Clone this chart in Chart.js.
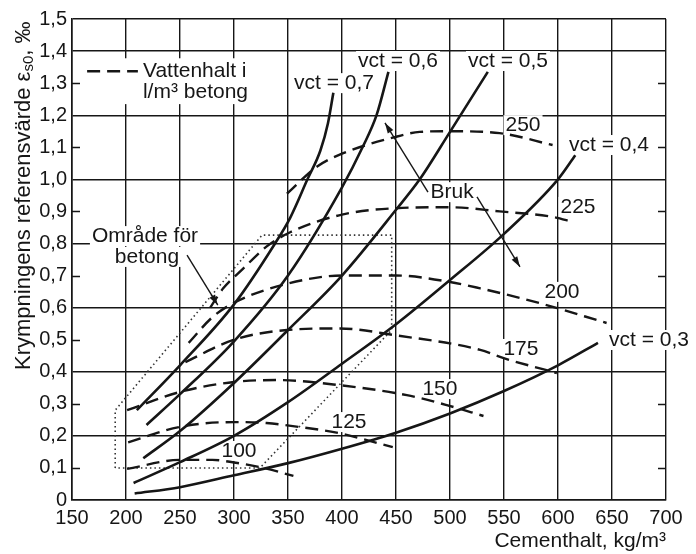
<!DOCTYPE html>
<html>
<head>
<meta charset="utf-8">
<script src="https://cdn.jsdelivr.net/npm/chart.js@4.4.0/dist/chart.umd.min.js"></script>
<style>
  html, body { margin: 0; padding: 0; background: #fff; }
</style>
</head>
<body>
<canvas id="chart" width="696" height="554"></canvas>
<script>
// axis labels
const xTickLabels = ['150', '200', '250', '300', '350', '400', '450', '500', '550', '600', '650', '700'];
const yTickLabels = ['0', '0,1', '0,2', '0,3', '0,4', '0,5', '0,6', '0,7', '0,8', '0,9', '1,0', '1,1', '1,2', '1,3', '1,4', '1,5'];

// vct curves [cementhalt, krympning]
const vct07 = [[210, 0.28], [250, 0.42], [300, 0.61], [338, 0.80], [352, 0.88], [368, 1.0], [380, 1.09], [387, 1.175], [392, 1.27]];
const vct06 = [[219, 0.234], [250, 0.33], [300, 0.495], [350, 0.70], [400, 0.975], [419, 1.10], [432, 1.2], [443, 1.335]];
const vct05 = [[216, 0.13], [250, 0.215], [300, 0.365], [350, 0.53], [400, 0.70], [450, 0.905], [472, 1.0], [500, 1.148], [535, 1.335]];
const vct04 = [[207, 0.053], [250, 0.118], [300, 0.2], [350, 0.305], [400, 0.425], [450, 0.548], [500, 0.686], [550, 0.83], [600, 1.0], [616, 1.075]];
const vct03 = [[208, 0.02], [250, 0.04], [300, 0.077], [350, 0.115], [400, 0.16], [450, 0.21], [500, 0.27], [550, 0.34], [600, 0.42], [637, 0.49]];

// vattenhalt curves (l/m3)
const w100 = [[201, 0.097], [250, 0.125], [280, 0.125], [300, 0.117], [330, 0.098], [355, 0.075]];
const w125 = [[202, 0.18], [250, 0.228], [300, 0.243], [330, 0.24], [360, 0.228], [395, 0.21], [447, 0.165]];
const w150 = [[201, 0.28], [250, 0.337], [300, 0.368], [340, 0.374], [398, 0.358], [460, 0.327], [497, 0.296], [531, 0.262]];
const w175 = [[255, 0.43], [300, 0.5], [349, 0.53], [398, 0.535], [449, 0.514], [528, 0.468], [549, 0.443], [599, 0.396]];
const w200 = [[258, 0.49], [280, 0.57], [300, 0.615], [350, 0.675], [400, 0.70], [450, 0.70], [500, 0.68], [528, 0.66], [583, 0.614], [645, 0.552]];
const w225 = [[278, 0.6], [290, 0.66], [308, 0.72], [330, 0.79], [352, 0.835], [400, 0.89], [450, 0.91], [500, 0.913], [546, 0.90], [595, 0.883], [614, 0.867]];
const w250 = [[349, 0.955], [377, 1.04], [400, 1.08], [447, 1.13], [472, 1.148], [500, 1.15], [546, 1.144], [595, 1.107]];

// område för betong (dotted outline)
const betongArea = [[190, 0.1], [190, 0.28], [326, 0.826], [446, 0.826], [446, 0.53], [324, 0.1], [190, 0.1]];

// texts placed in data coordinates
const notes = [
    ['vct = 0,7', 392.6, 1.30],
    ['vct = 0,6', 451.9, 1.369],
    ['vct = 0,5', 553.7, 1.369],
    ['vct = 0,4', 647.2, 1.107],
    ['vct = 0,3', 684.3, 0.499],
    ['250', 567.6, 1.169],
    ['225', 618.5, 0.914],
    ['200', 603.7, 0.649],
    ['175', 565.7, 0.471],
    ['150', 490.7, 0.346],
    ['125', 406.5, 0.243],
    ['100', 304.6, 0.153],
    ['Bruk', 501.9, 0.96],
    ['Område för', 217.6, 0.823],
    ['betong', 219.4, 0.758]
];
const arrows = [
    [[479.6, 0.96], [439.8, 1.176]],
    [[525, 0.945], [564.8, 0.727]],
    [[256.5, 0.764], [285, 0.608]]
];

const INK = '#161616';
const FONT = '"Liberation Sans", Arial, sans-serif';

const pts = a => a.map(p => ({ x: p[0], y: p[1] }));
const solid = a => ({ data: pts(a), borderColor: INK, borderWidth: 2.6, pointRadius: 0, showLine: true, cubicInterpolationMode: 'monotone', fill: false });
const dashed = a => Object.assign(solid(a), { borderWidth: 2.4, borderDash: [13, 7] });

const annotations = {
    id: 'annotations',
    beforeDatasetsDraw(chart) {
        const { ctx, chartArea: ca, scales: { x, y } } = chart;
        ctx.save();
        // short ticks at odd tenths, inside both edges
        ctx.strokeStyle = INK;
        ctx.lineWidth = 1.4;
        y.ticks.forEach((t, i) => {
            if (i % 2 === 1 && i < 15) {
                const py = Math.round(y.getPixelForValue(t.value)) + 0.5;
                ctx.beginPath();
                ctx.moveTo(ca.left, py); ctx.lineTo(ca.left + 8, py);
                ctx.moveTo(ca.right - 8, py); ctx.lineTo(ca.right, py);
                ctx.stroke();
            }
        });

        ctx.font = '21px ' + FONT;
        ctx.textBaseline = 'middle';
        ctx.textAlign = 'left';
        notes.forEach(([text, vx, vy]) => {
            const px = x.getPixelForValue(vx), py = y.getPixelForValue(vy);
            const w = ctx.measureText(text).width;
            ctx.fillStyle = '#fff';
            ctx.fillRect(px - w / 2 - 2, py - 10, w + 4, 20);
            ctx.fillStyle = INK;
            ctx.fillText(text, px - w / 2, py);
        });

        // legend for dashed lines
        const lx0 = x.getPixelForValue(164), lx1 = x.getPixelForValue(211);
        const tx = x.getPixelForValue(215.7);
        const ly1 = y.getPixelForValue(1.337), ly2 = y.getPixelForValue(1.272);
        const tw = Math.max(ctx.measureText('Vattenhalt i').width, ctx.measureText('l/m³ betong').width);
        ctx.fillStyle = '#fff';
        ctx.fillRect(lx0 - 3, ly1 - 13, tx + tw + 4 - (lx0 - 3), ly2 - ly1 + 25);
        ctx.strokeStyle = INK;
        ctx.lineWidth = 2.4;
        ctx.setLineDash([13, 7]);
        ctx.beginPath();
        ctx.moveTo(lx0, ly1); ctx.lineTo(lx1, ly1);
        ctx.stroke();
        ctx.setLineDash([]);
        ctx.fillStyle = INK;
        ctx.fillText('Vattenhalt i', tx, ly1);
        ctx.fillText('l/m³ betong', tx, ly2);
        ctx.restore();
    },
    afterDatasetsDraw(chart) {
        const { ctx, scales: { x, y } } = chart;
        ctx.save();
        ctx.strokeStyle = INK;
        ctx.fillStyle = INK;
        ctx.lineWidth = 1.4;
        arrows.forEach(([a, b]) => {
            const x0 = x.getPixelForValue(a[0]), y0 = y.getPixelForValue(a[1]);
            const x1 = x.getPixelForValue(b[0]), y1 = y.getPixelForValue(b[1]);
            const ang = Math.atan2(y1 - y0, x1 - x0);
            ctx.beginPath();
            ctx.moveTo(x0, y0); ctx.lineTo(x1, y1);
            ctx.stroke();
            ctx.beginPath();
            ctx.moveTo(x1, y1);
            ctx.lineTo(x1 - 11 * Math.cos(ang - 0.3), y1 - 11 * Math.sin(ang - 0.3));
            ctx.lineTo(x1 - 11 * Math.cos(ang + 0.3), y1 - 11 * Math.sin(ang + 0.3));
            ctx.closePath();
            ctx.fill();
        });

        // y axis title with subscript
        ctx.translate(24, 370);
        ctx.rotate(-Math.PI / 2);
        ctx.textBaseline = 'middle';
        ctx.textAlign = 'left';
        let u = 0;
        [['Krympningens referensvärde ε', 22, 0], ['s0', 15, 5], [', ‰', 22, 0]].forEach(([s, size, dv]) => {
            ctx.font = size + 'px ' + FONT;
            ctx.fillText(s, u, dv);
            u += ctx.measureText(s).width;
        });
        ctx.restore();
    }
};

new Chart(document.getElementById('chart'), {
    type: 'scatter',
    data: {
        datasets: [
            solid(vct07), solid(vct06), solid(vct05), solid(vct04), solid(vct03),
            dashed(w100), dashed(w125), dashed(w150), dashed(w175), dashed(w200), dashed(w225), dashed(w250),
            { data: pts(betongArea), showLine: true, tension: 0, pointRadius: 0, borderColor: '#333', borderWidth: 1.6, borderDash: [1.5, 3] }
        ]
    },
    options: {
        responsive: false,
        animation: false,
        layout: { padding: { top: 19, right: 30, left: 0, bottom: 0 } },
        plugins: { legend: { display: false }, tooltip: { enabled: false } },
        scales: {
            x: {
                type: 'linear', min: 150, max: 700,
                afterFit: s => { s.height = 54; },
                ticks: { stepSize: 50, padding: 6, color: INK, font: { family: FONT, size: 20 }, callback: (v, i) => xTickLabels[i] },
                grid: { color: INK, lineWidth: 1.4, drawTicks: false },
                border: { color: INK, width: 1.6 },
                title: { display: true, text: 'Cementhalt, kg/m³', align: 'end', color: INK, font: { family: FONT, size: 21 }, padding: { top: 0, bottom: 0 } }
            },
            y: {
                type: 'linear', min: 0, max: 1.5,
                afterFit: s => { s.width = 72; },
                ticks: { stepSize: 0.1, padding: 5, color: INK, font: { family: FONT, size: 20 }, callback: (v, i) => yTickLabels[i] },
                grid: { color: c => (c.index % 2 === 0 || c.index === 15) ? INK : 'rgba(0,0,0,0)', lineWidth: 1.4, drawTicks: false },
                border: { color: INK, width: 1.6 }
            }
        }
    },
    plugins: [annotations]
});
</script>
</body>
</html>
